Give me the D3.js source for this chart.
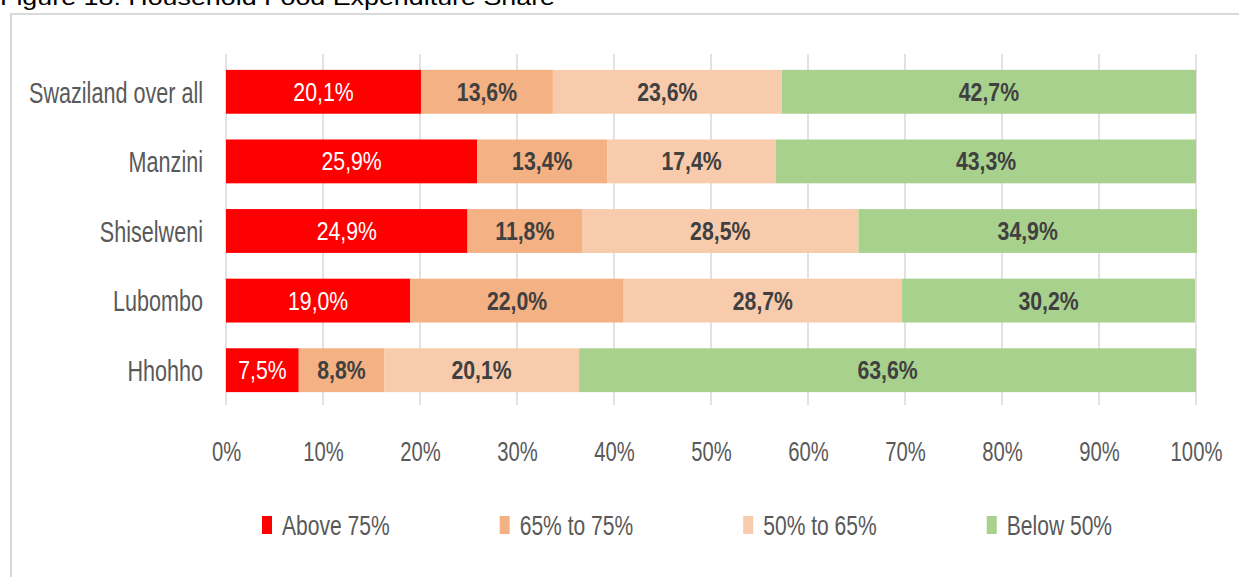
<!DOCTYPE html>
<html>
<head>
<meta charset="utf-8">
<script src="https://cdn.jsdelivr.net/npm/d3@7"></script>
<style>
  body { margin: 0; background: #fff; }
  svg { display: block; }
</style>
</head>
<body>
<div id="chart"></div>
<script>
const regions = ["Swaziland over all", "Manzini", "Shiselweni", "Lubombo", "Hhohho"];
const seriesNames = ["Above 75%", "65% to 75%", "50% to 65%", "Below 50%"];
const above75 = [20.1, 25.9, 24.9, 19.0, 7.5];
const from65to75 = [13.6, 13.4, 11.8, 22.0, 8.8];
const from50to65 = [23.6, 17.4, 28.5, 28.7, 20.1];
const below50 = [42.7, 43.3, 34.9, 30.2, 63.6];
const tickValues = [0, 10, 20, 30, 40, 50, 60, 70, 80, 90, 100];
const colors = ["#ff0000", "#f4b183", "#f8cbad", "#a9d18e"];

const W = 1239, H = 577;
const margin = { top: 57, left: 226, right: 43, bottom: 172 };
// the source is a horizontally squeezed Calibri, so text is narrowed with scale()
const font = "'Liberation Sans', Arial, sans-serif";

const rows = regions.map((r, i) => ({
  region: r, s0: above75[i], s1: from65to75[i], s2: from50to65[i], s3: below50[i]
}));
const keys = ["s0", "s1", "s2", "s3"];
const stacked = d3.stack().keys(keys)(rows);

const svg = d3.select("#chart").append("svg")
  .attr("width", W).attr("height", H);

// title (cut off at the top in the source)
svg.append("text")
  .attr("x", 0).attr("y", 5)
  .attr("textLength", 555).attr("lengthAdjust", "spacingAndGlyphs")
  .style("font-family", font)
  .style("font-size", "22px")
  .attr("fill", "#000")
  .text("Figure 18: Household Food Expenditure Share");

// chart border
svg.append("rect")
  .attr("x", 11).attr("y", 14)
  .attr("width", W + 20).attr("height", H)
  .attr("fill", "none").attr("stroke", "#d9d9d9").attr("stroke-width", 2);

const x = d3.scaleLinear().domain([0, 100]).range([margin.left, W - margin.right]);
const y = d3.scaleBand().domain(regions)
  .range([margin.top, H - margin.bottom])
  .paddingInner(0.37).paddingOuter(0.185);

// gridlines
svg.append("g")
  .selectAll("line")
  .data(tickValues)
  .join("line")
  .attr("x1", d => x(d)).attr("x2", d => x(d))
  .attr("y1", margin.top - 3).attr("y2", H - margin.bottom)
  .attr("stroke", "#d9d9d9").attr("stroke-width", 1.5);

// bars
svg.append("g")
  .selectAll("g")
  .data(stacked)
  .join("g")
  .attr("fill", (d, i) => colors[i])
  .selectAll("rect")
  .data(d => d)
  .join("rect")
  .attr("x", d => x(d[0]))
  .attr("y", d => y(d.data.region))
  .attr("width", d => x(d[1]) - x(d[0]))
  .attr("height", y.bandwidth());

// data labels
const fmt = v => v.toFixed(1).replace(".", ",") + "%";
stacked.forEach((layer, i) => {
  svg.append("g")
    .selectAll("text")
    .data(layer)
    .join("text")
    .attr("transform", d => `translate(${x((d[0] + d[1]) / 2)},${y(d.data.region) + y.bandwidth() / 2}) scale(0.85,1)`)
    .attr("dy", "0.36em")
    .attr("text-anchor", "middle")
    .style("font-family", font)
    .style("font-size", "25px")
    .style("font-weight", i === 0 ? "normal" : "bold")
    .attr("fill", i === 0 ? "#ffffff" : "#404040")
    .text(d => fmt(d[1] - d[0]));
});

// category labels
svg.append("g")
  .selectAll("text")
  .data(regions)
  .join("text")
  .attr("transform", d => `translate(203,${y(d) + y.bandwidth() / 2}) scale(0.72,1)`)
  .attr("dy", "0.36em")
  .attr("text-anchor", "end")
  .style("font-family", font)
  .style("font-size", "30px")
  .attr("fill", "#595959")
  .text(d => d);

// x axis labels
const xAxis = svg.append("g")
  .attr("transform", `translate(0,${H - margin.bottom})`)
  .call(d3.axisBottom(x).tickValues(tickValues).tickSize(0).tickPadding(37)
    .tickFormat(d => d + "%"));
xAxis.select(".domain").remove();
xAxis.selectAll("text")
  .attr("transform", "scale(0.75,1)")
  .style("font-family", font)
  .style("font-size", "27px")
  .attr("fill", "#595959");

// legend
const legend = svg.append("g").attr("transform", "translate(262,525)");
let lx = 0;
seriesNames.forEach((name, i) => {
  const item = legend.append("g").attr("transform", `translate(${lx},0)`);
  item.append("rect")
    .attr("x", 0).attr("y", -9)
    .attr("width", 10).attr("height", 18)
    .attr("fill", colors[i]);
  const t = item.append("text")
    .attr("transform", "translate(20,0) scale(0.78,1)")
    .attr("dy", "0.36em")
    .style("font-family", font)
    .style("font-size", "27px")
    .attr("fill", "#595959")
    .text(name);
  lx += 20 + t.node().getComputedTextLength() * 0.78 + 110;
});
</script>
</body>
</html>
